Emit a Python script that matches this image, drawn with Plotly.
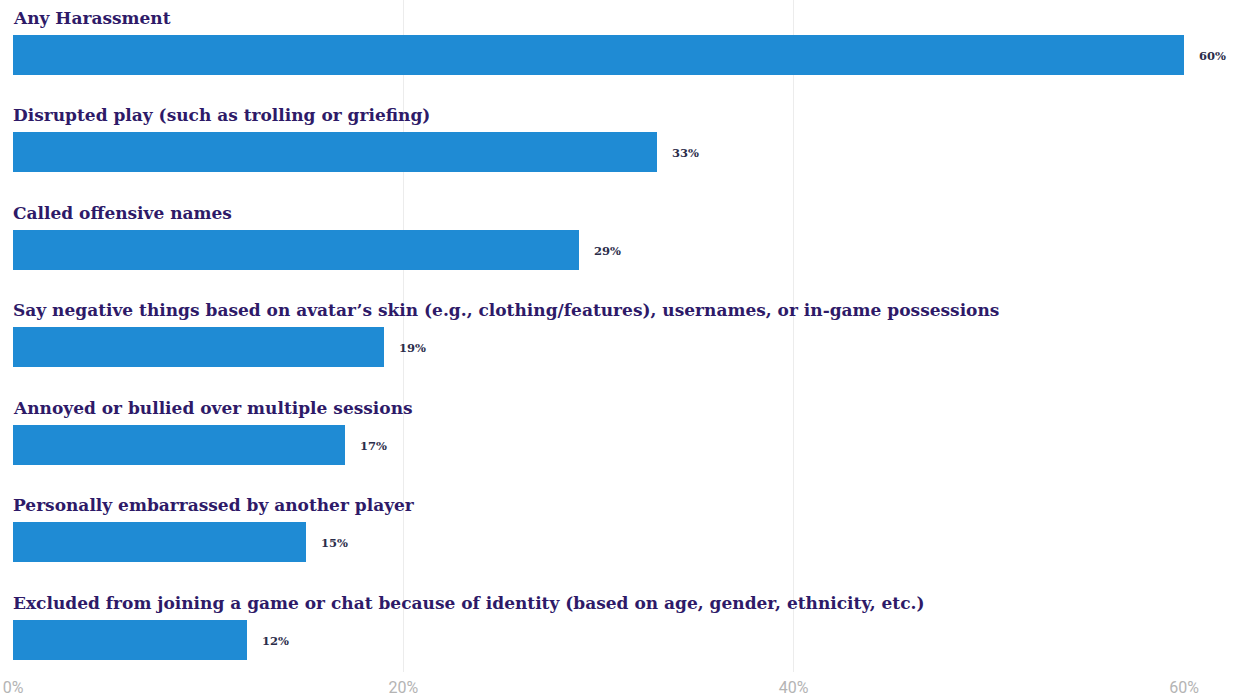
import plotly.graph_objects as go

categories = [
    "Any Harassment",
    "Disrupted play (such as trolling or griefing)",
    "Called offensive names",
    "Say negative things based on avatar\u2019s skin (e.g., clothing/features), usernames, or in-game possessions",
    "Annoyed or bullied over multiple sessions",
    "Personally embarrassed by another player",
    "Excluded from joining a game or chat because of identity (based on age, gender, ethnicity, etc.)",
]
values = [60, 33, 29, 19, 17, 15, 12]
tick_values = [0, 20, 40, 60]
tick_labels = ["0%", "20%", "40%", "60%"]

BAR_COLOR = "#1f8bd4"
LABEL_COLOR = "#2e1a68"
VALUE_COLOR = "#2b2d4a"
TICK_COLOR = "#b4b4b4"
GRID_COLOR = "#ececec"

positions = list(range(len(categories)))

fig = go.Figure(
    go.Bar(
        x=values,
        y=positions,
        orientation="h",
        width=0.41,
        marker=dict(color=BAR_COLOR, line=dict(width=0)),
        hoverinfo="skip",
    )
)

annotations = []
for pos, cat, val in zip(positions, categories, values):
    # category caption above each bar
    annotations.append(dict(
        x=0, y=pos, xref="x", yref="y", text=cat, showarrow=False,
        xanchor="left", yanchor="middle", yshift=37, xshift=-2,
        font=dict(family="DejaVu Serif", size=17, color=LABEL_COLOR, weight="bold"),
    ))
    # value label to the right of each bar
    annotations.append(dict(
        x=val, y=pos, xref="x", yref="y", text=f"{val}%", showarrow=False,
        xanchor="left", yanchor="middle", xshift=13, yshift=-1,
        font=dict(family="DejaVu Serif", size=11.5, color=VALUE_COLOR, weight="bold"),
    ))

fig.update_layout(
    width=1239, height=698,
    margin=dict(l=13, r=55, t=0, b=26),
    paper_bgcolor="white", plot_bgcolor="white",
    showlegend=False,
    bargap=0,
    annotations=annotations,
    xaxis=dict(
        range=[0, 60], tickvals=tick_values, ticktext=tick_labels,
        showgrid=True, gridcolor=GRID_COLOR, gridwidth=1,
        zeroline=False, showline=False, ticks="",
        ticklabelstandoff=4,
        tickfont=dict(family="Roboto", size=16, color=TICK_COLOR),
        fixedrange=True,
    ),
    yaxis=dict(
        range=[6.328, -0.5585], showticklabels=False, showgrid=False,
        zeroline=False, showline=False, ticks="", fixedrange=True,
    ),
)

fig.write_html("out.html")
